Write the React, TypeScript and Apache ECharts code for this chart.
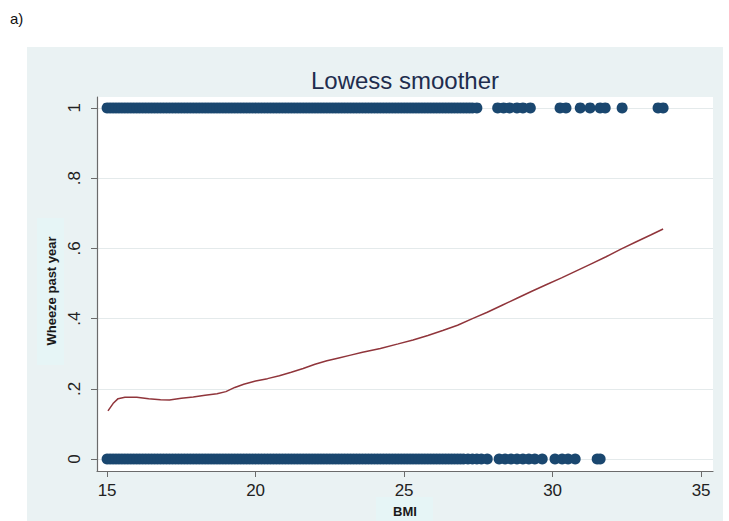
import React, { useEffect, useRef } from "react";
import * as echarts from "echarts";

// BMI values of children with wheeze in past year (y = 1)
const wheezeYesBMI = [
  15.0, 15.1, 15.2, 15.3, 15.4, 15.5, 15.6, 15.7, 15.8, 15.9,
  16.0, 16.1, 16.2, 16.3, 16.4, 16.5, 16.6, 16.7, 16.8, 16.9,
  17.0, 17.1, 17.2, 17.3, 17.4, 17.5, 17.6, 17.7, 17.8, 17.9,
  18.0, 18.1, 18.2, 18.3, 18.4, 18.5, 18.6, 18.7, 18.8, 18.9,
  19.0, 19.1, 19.2, 19.3, 19.4, 19.5, 19.6, 19.7, 19.8, 19.9,
  20.0, 20.1, 20.2, 20.3, 20.4, 20.5, 20.6, 20.7, 20.8, 20.9,
  21.0, 21.1, 21.2, 21.3, 21.4, 21.5, 21.6, 21.7, 21.8, 21.9,
  22.0, 22.1, 22.2, 22.3, 22.4, 22.5, 22.6, 22.7, 22.8, 22.9,
  23.0, 23.1, 23.2, 23.3, 23.4, 23.5, 23.6, 23.7, 23.8, 23.9,
  24.0, 24.1, 24.2, 24.3, 24.4, 24.5, 24.6, 24.7, 24.8, 24.9,
  25.0, 25.1, 25.2, 25.3, 25.4, 25.5, 25.6, 25.7, 25.8, 25.9,
  26.0, 26.1, 26.2, 26.3, 26.4, 26.5, 26.6, 26.7, 26.8, 26.9,
  27.0, 27.1, 27.2, 27.3, 27.45,
  28.15, 28.35, 28.55, 28.8, 29.0, 29.25,
  30.25, 30.45, 30.93, 31.26, 31.6, 31.77, 32.34, 33.55, 33.72,
];

// BMI values of children without wheeze (y = 0)
const wheezeNoBMI = [
  15.0, 15.1, 15.2, 15.3, 15.4, 15.5, 15.6, 15.7, 15.8, 15.9,
  16.0, 16.1, 16.2, 16.3, 16.4, 16.5, 16.6, 16.7, 16.8, 16.9,
  17.0, 17.1, 17.2, 17.3, 17.4, 17.5, 17.6, 17.7, 17.8, 17.9,
  18.0, 18.1, 18.2, 18.3, 18.4, 18.5, 18.6, 18.7, 18.8, 18.9,
  19.0, 19.1, 19.2, 19.3, 19.4, 19.5, 19.6, 19.7, 19.8, 19.9,
  20.0, 20.1, 20.2, 20.3, 20.4, 20.5, 20.6, 20.7, 20.8, 20.9,
  21.0, 21.1, 21.2, 21.3, 21.4, 21.5, 21.6, 21.7, 21.8, 21.9,
  22.0, 22.1, 22.2, 22.3, 22.4, 22.5, 22.6, 22.7, 22.8, 22.9,
  23.0, 23.1, 23.2, 23.3, 23.4, 23.5, 23.6, 23.7, 23.8, 23.9,
  24.0, 24.1, 24.2, 24.3, 24.4, 24.5, 24.6, 24.7, 24.8, 24.9,
  25.0, 25.1, 25.2, 25.3, 25.4, 25.5, 25.6, 25.7, 25.8, 25.9,
  26.0, 26.1, 26.2, 26.3, 26.4, 26.5, 26.6, 26.7, 26.8, 26.9,
  27.0, 27.15, 27.3, 27.45, 27.6, 27.8, 28.2, 28.4, 28.6, 28.8,
  29.0, 29.2, 29.4, 29.65, 30.08, 30.32, 30.52, 30.76, 31.5, 31.6,
];

// Lowess smoother curve
const lowessBMI = [
  15.03, 15.2, 15.37, 15.6, 16.0, 16.4, 16.8, 17.1, 17.5, 17.9, 18.3, 18.7, 19.0, 19.3, 19.6,
  20.0, 20.4, 20.8, 21.2, 21.6, 22.0, 22.4, 22.8, 23.2, 23.6, 24.2, 24.8, 25.3, 25.8, 26.3,
  26.8, 27.3, 27.8, 28.3, 28.8, 29.3, 29.8, 30.3, 30.8, 31.3, 31.8, 32.3, 32.8, 33.3, 33.72,
];
const lowessFit = [
  0.137, 0.158, 0.172, 0.176, 0.176, 0.172, 0.169, 0.168, 0.173, 0.177, 0.182, 0.186, 0.192,
  0.204, 0.213, 0.222, 0.229, 0.237, 0.247, 0.258, 0.27, 0.28, 0.288, 0.296, 0.304, 0.315,
  0.328, 0.339, 0.352, 0.366, 0.381, 0.4, 0.418, 0.438, 0.458, 0.478, 0.497, 0.516, 0.536,
  0.556, 0.576, 0.598, 0.618, 0.638, 0.655,
];

const xTicks = [15, 20, 25, 30, 35];
const yTicks = [0, 0.2, 0.4, 0.6, 0.8, 1];

const FONT = "'Liberation Sans', Arial, Helvetica, sans-serif";

export default function App() {
  const ref = useRef<HTMLDivElement>(null);

  useEffect(() => {
    if (!ref.current) return;
    const chart = echarts.init(ref.current, null, { renderer: "svg" });
    const option: any = {
      animation: false,
      backgroundColor: "transparent",
      textStyle: { fontFamily: FONT },
      grid: {
        show: true,
        left: 97,
        top: 97,
        width: 616,
        height: 374,
        backgroundColor: "#ffffff",
        borderWidth: 0,
      },
      xAxis: {
        type: "value",
        min: 14.66,
        max: 35.4,
        axisLine: { show: true, onZero: false, lineStyle: { color: "#6b6b6b", width: 1.2 } },
        axisTick: { show: true, customValues: xTicks, length: 6, lineStyle: { color: "#6b6b6b" } },
        axisLabel: {
          customValues: xTicks,
          fontSize: 17,
          margin: 11,
          color: "#222",
          fontFamily: FONT,
        },
        splitLine: { show: false },
      },
      yAxis: {
        type: "value",
        min: -0.034,
        max: 1.031,
        axisLine: { show: true, onZero: false, lineStyle: { color: "#6b6b6b", width: 1.2 } },
        axisTick: { show: true, customValues: yTicks, length: 6, lineStyle: { color: "#6b6b6b" } },
        axisLabel: {
          customValues: yTicks,
          rotate: 90,
          fontSize: 17,
          margin: 14,
          color: "#222",
          fontFamily: FONT,
          formatter: (v: number) =>
            v === 0 ? "0" : v === 1 ? "1" : "." + Math.round(v * 10),
        },
        splitLine: { show: true, lineStyle: { color: "#e4eaeb", width: 1 } },
      },
      series: [
        {
          type: "scatter",
          data: wheezeYesBMI.map((b) => [b, 1]),
          symbolSize: 11,
          itemStyle: { color: "#1a476f", opacity: 1 },
          z: 2,
        },
        {
          type: "scatter",
          data: wheezeNoBMI.map((b) => [b, 0]),
          symbolSize: 11,
          itemStyle: { color: "#1a476f", opacity: 1 },
          z: 2,
        },
        {
          type: "line",
          data: lowessBMI.map((b, i) => [b, lowessFit[i]]),
          showSymbol: false,
          smooth: false,
          lineStyle: { color: "#90353b", width: 1.5 },
          z: 3,
        },
      ],
      graphic: [
        {
          type: "rect",
          shape: { x: 37, y: 218, width: 27, height: 147 },
          style: { fill: "#e6f5f6" },
          z: 1,
        },
        {
          type: "text",
          x: 51,
          y: 291,
          rotation: Math.PI / 2,
          style: {
            text: "Wheeze past year",
            fontSize: 13,
            fontWeight: "bold",
            fill: "#1a1a1a",
            align: "center",
            verticalAlign: "middle",
            fontFamily: FONT,
          },
          z: 2,
        },
        {
          type: "rect",
          shape: { x: 376, y: 497, width: 57, height: 24 },
          style: { fill: "#e6f5f6" },
          z: 1,
        },
        {
          type: "text",
          x: 405,
          y: 511,
          style: {
            text: "BMI",
            fontSize: 13,
            fontWeight: "bold",
            fill: "#1a1a1a",
            align: "center",
            verticalAlign: "middle",
            fontFamily: FONT,
          },
          z: 2,
        },
        {
          type: "text",
          x: 405,
          y: 80,
          style: {
            text: "Lowess smoother",
            fontSize: 24,
            fill: "#1e2d4e",
            align: "center",
            verticalAlign: "middle",
            fontFamily: FONT,
          },
          z: 2,
        },
        {
          type: "text",
          x: 10,
          y: 18,
          style: {
            text: "a)",
            fontSize: 15,
            fill: "#111",
            align: "left",
            verticalAlign: "middle",
            fontFamily: FONT,
          },
          z: 2,
        },
      ],
    };
    chart.setOption(option);
    return () => chart.dispose();
  }, []);

  return (
    <div
      style={{
        position: "absolute",
        left: 0,
        top: 0,
        width: 729,
        height: 521,
        background: "#ffffff",
        overflow: "hidden",
      }}
    >
      <div
        style={{
          position: "absolute",
          left: 27,
          top: 47,
          width: 696,
          height: 474,
          background: "#eaf2f3",
        }}
      />
      <div
        ref={ref}
        style={{ position: "absolute", left: 0, top: 0, width: 729, height: 521 }}
      />
    </div>
  );
}
